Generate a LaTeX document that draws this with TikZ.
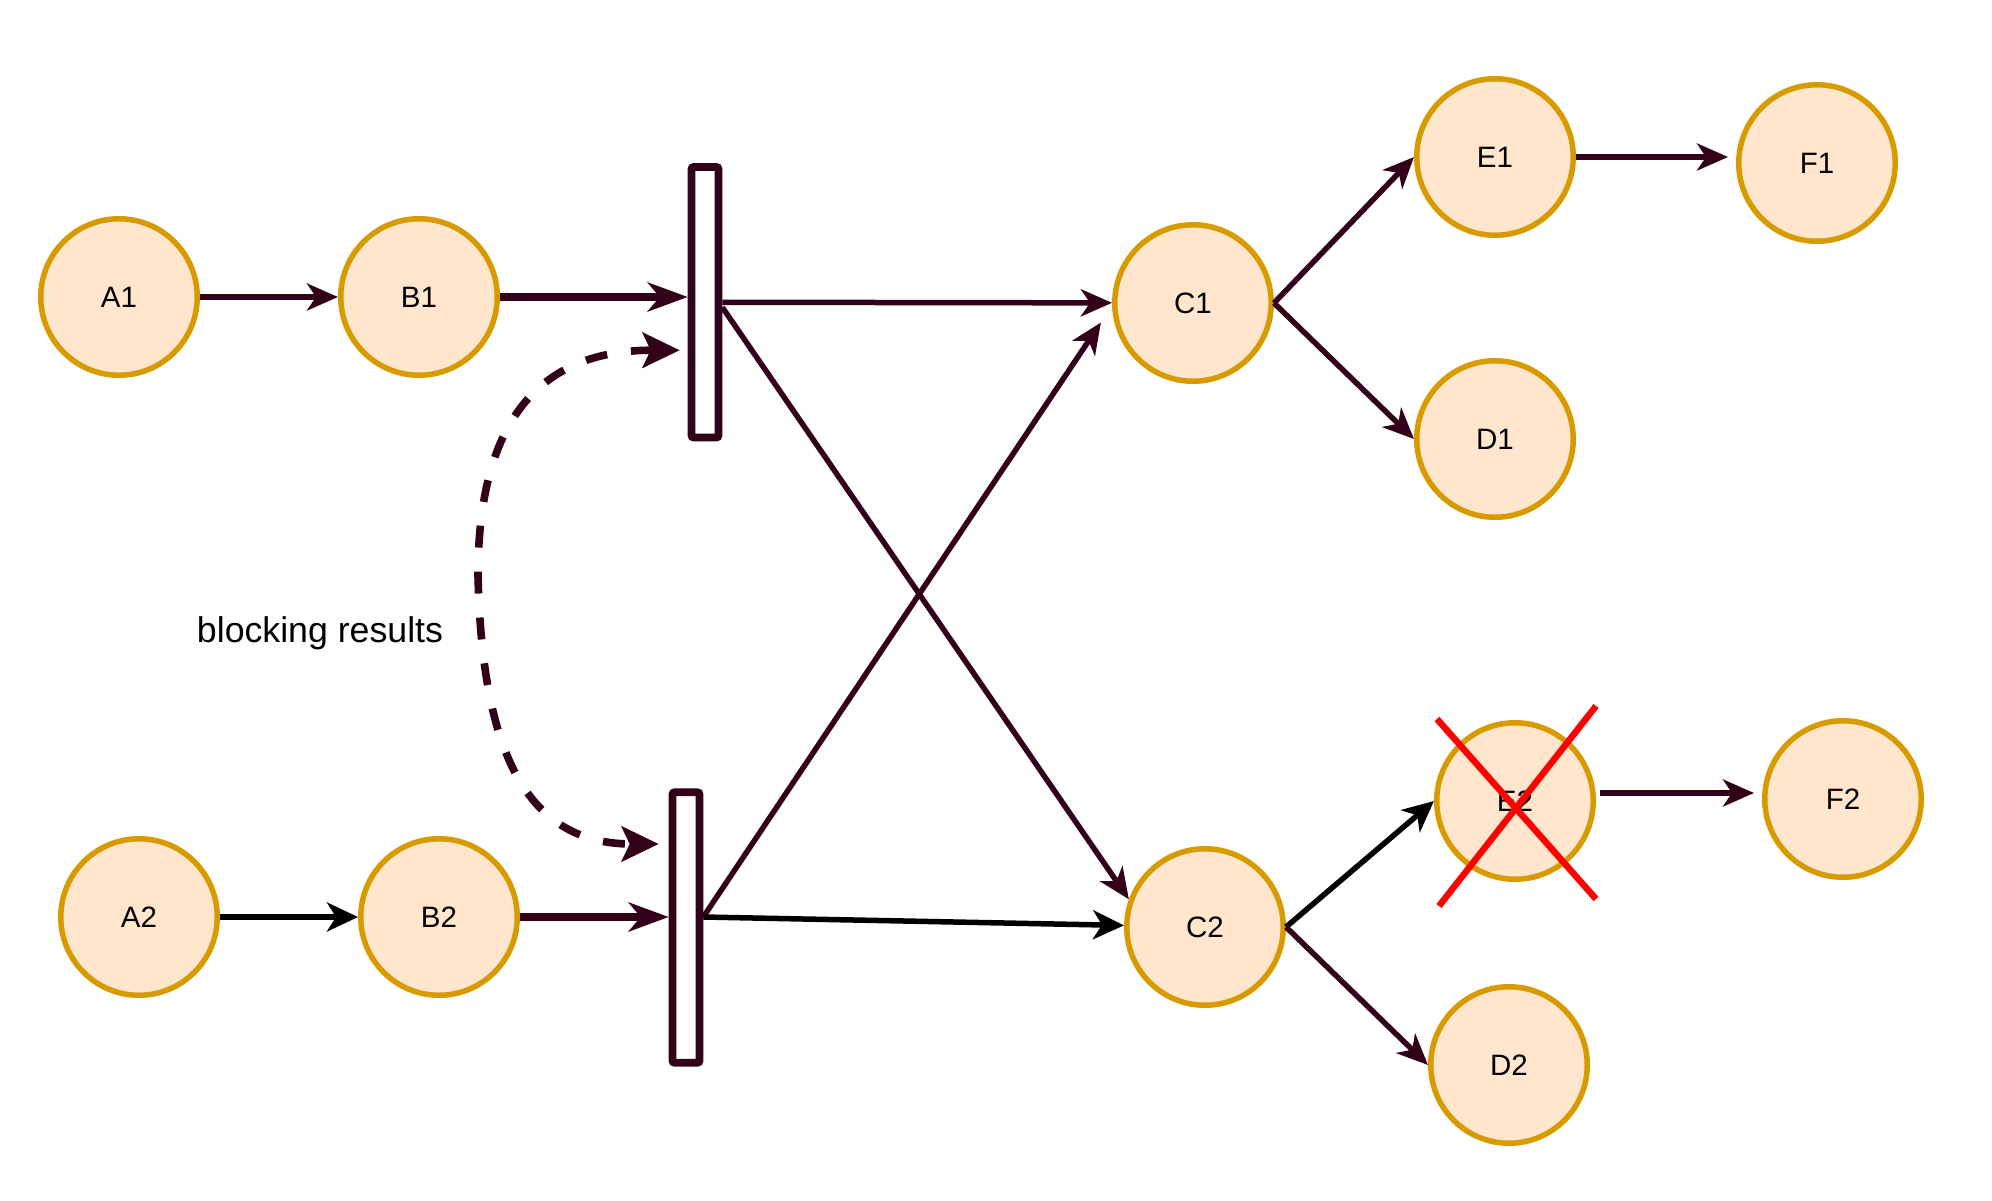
\documentclass[tikz,border=0pt]{standalone}
\usepackage{fontspec}
\setmainfont{Liberation Sans}
\usetikzlibrary{arrows.meta,calc}
\definecolor{nodefill}{HTML}{FFE6CC}
\definecolor{nodeline}{HTML}{D79B00}
\definecolor{edgec}{HTML}{33001A}
\tikzset{
  st/.style={circle, draw=nodeline, fill=nodefill, line width=5.5pt, minimum size=156.5pt, inner sep=0pt, font=\fontsize{29.5}{34}\selectfont},
  barbox/.style={rectangle, draw=edgec, fill=white, line width=7.6pt, minimum width=27pt, minimum height=270.5pt, inner sep=0pt, rounded corners=2pt},
  conn/.style={draw=edgec, line width=5.5pt, -{Stealth[length=31pt,width=27pt,inset=9pt]}},
  connblack/.style={draw=black, line width=5.5pt, -{Stealth[length=31pt,width=29pt,inset=9pt]}},
  connthick/.style={draw=edgec, line width=8pt, -{Stealth[length=40pt,width=29pt,inset=12pt]}},
  blockarrow/.style={draw=edgec, line width=7.6pt, dash pattern=on 22pt off 24pt, {Stealth[length=37pt,width=35pt,inset=8pt]}-{Stealth[length=37pt,width=35pt,inset=8pt]}},
  redx/.style={draw=red, line width=6.5pt}
}
\begin{document}
\begin{tikzpicture}[x=1pt,y=-1pt]
\useasboundingbox (0,0) rectangle (1992,1200);
% places
\node[st] (A1) at (119,297) {A1};
\node[st] (B1) at (419,297) {B1};
\node[st] (C1) at (1193,303) {C1};
\node[st] (E1) at (1495,157) {E1};
\node[st] (F1) at (1817,163) {F1};
\node[st] (D1) at (1495,439) {D1};
\node[st] (A2) at (139,917) {A2};
\node[st] (B2) at (439,917) {B2};
\node[st] (C2) at (1205,927) {C2};
\node[st] (E2) at (1515,801) {E2};
\node[st] (F2) at (1843,799) {F2};
\node[st] (D2) at (1509,1065) {D2};
% transitions
\node[barbox] (bar1) at (705,302.25) {};
\node[barbox] (bar2) at (686,927.5) {};
% label
\node[font=\fontsize{35.7}{43}\selectfont, anchor=base, inner sep=0pt] (lbl) at (320,642) {blocking results};
% connectors
\draw[conn] (A1.east) -- (B1.west);
\draw[connthick] (B1.east) -- (bar1.west |- B1.east);
\draw[conn] (bar1.east) -- (C1);
\draw[conn] ([yshift=-5pt]bar1.east) -- (C2.160);
\draw[conn, shorten >=20pt] (bar2.east |- B2.east) -- (C1.182);
\draw[connblack] (bar2.east |- B2.east) -- (C2);
\draw[connblack] (A2.east) -- (B2.west);
\draw[connthick] (B2.east) -- (bar2.west |- B2.east);
\draw[conn] (C1.east) -- (E1.west);
\draw[conn] (C1.east) -- (D1.west);
\draw[conn, shorten >=8pt] (E1.east) -- (E1.east -| F1.west);
\draw[connblack] (C2.east) -- (E2.west);
\draw[conn] (C2.east) -- (D2.west);
\coordinate (e2o) at ([yshift=8pt]E2.east);
\draw[conn, shorten <=4pt, shorten >=8pt] (e2o) -- (e2o -| F2.west);
% red cross
\draw[redx] ($(E2)+(-78,-82)$) -- ($(E2)+(81,98)$);
\draw[redx] ($(E2)+(81,-95)$) -- ($(E2)+(-76,105)$);
% blocking dashed curve
\coordinate (dtop) at ($(bar1.west)+(-8,48)$);
\coordinate (dbot) at ($(bar2.west)+(-10,-83.5)$);
\draw[blockarrow] (dtop) .. controls (540,350) and (478,420) .. (478,576) .. controls (482,740) and (520,844) .. (dbot);
\end{tikzpicture}
\end{document}
